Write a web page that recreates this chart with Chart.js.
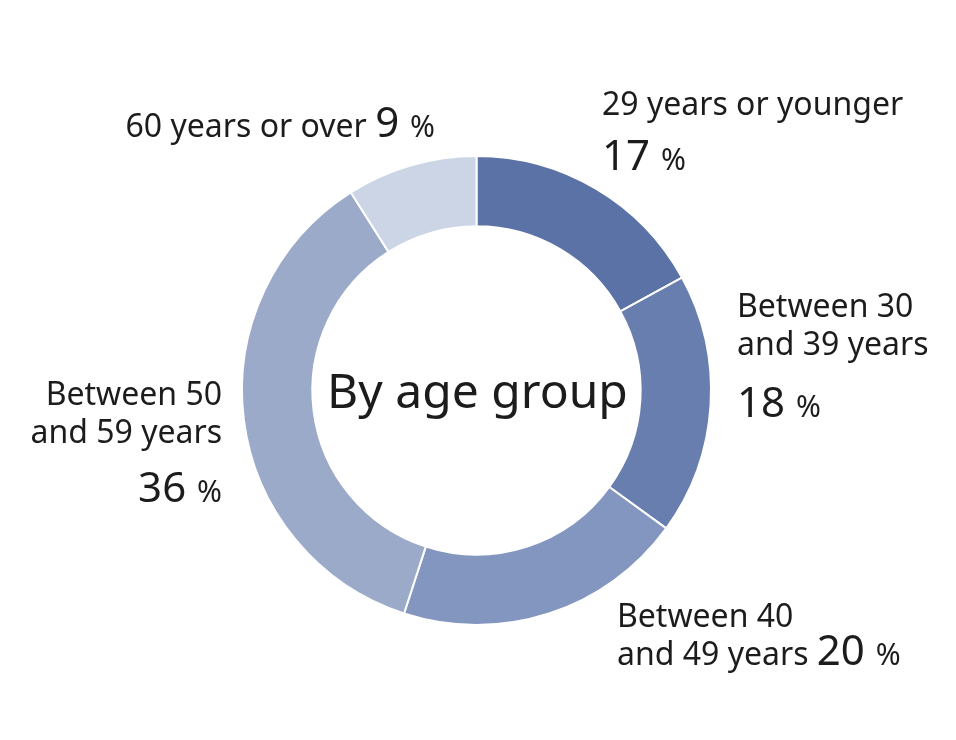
<!DOCTYPE html>
<html>
<head>
<meta charset="utf-8">
<script src="https://cdn.jsdelivr.net/npm/chart.js@4.4.0/dist/chart.umd.min.js"></script>
<style>
  html, body { margin: 0; padding: 0; background: #ffffff; }
  #wrap { width: 956px; height: 740px; position: relative; }
</style>
</head>
<body>
<div id="wrap"><canvas id="c" width="956" height="740"></canvas></div>
<script>
// ---- data ----
const categories = ["29 years or younger", "Between 30 and 39 years", "Between 40 and 49 years", "Between 50 and 59 years", "60 years or over"];
const labelLines = [
  ["29 years or younger"],
  ["Between 30", "and 39 years"],
  ["Between 40", "and 49 years"],
  ["Between 50", "and 59 years"],
  ["60 years or over"]
];
const shares = [17, 18, 20, 36, 9];
const sliceColors = ["#5a72a6", "#687eae", "#8396bf", "#9caac9", "#cbd5e6"];
const centerTitle = "By age group";

// ---- layout (positions, not data) ----
const FONT = "'Noto Sans', 'Open Sans', sans-serif";
const TXT = "#1c1c1c";
const LBL = 32, NUM = 42, PCT = 30;
function buildLabelLayout() {
  const pct = (v) => [{t: String(v), s: NUM}, {t: " ", s: NUM}, {t: "%", s: PCT}];
  return [
    [ {x: 602, y: 115, align: 'left', parts: [{t: labelLines[0][0], s: LBL}]},
      {x: 602, y: 170, align: 'left', parts: pct(shares[0])} ],
    [ {x: 737, y: 317, align: 'left', parts: [{t: labelLines[1][0], s: LBL}]},
      {x: 737, y: 355, align: 'left', parts: [{t: labelLines[1][1], s: LBL}]},
      {x: 737, y: 417, align: 'left', parts: pct(shares[1])} ],
    [ {x: 617, y: 627, align: 'left', parts: [{t: labelLines[2][0], s: LBL}]},
      {x: 617, y: 665, align: 'left', parts: [{t: labelLines[2][1] + " ", s: LBL}].concat(pct(shares[2]))} ],
    [ {x: 222, y: 405, align: 'right', parts: [{t: labelLines[3][0], s: LBL}]},
      {x: 222, y: 443, align: 'right', parts: [{t: labelLines[3][1], s: LBL}]},
      {x: 222, y: 502, align: 'right', parts: pct(shares[3])} ],
    [ {x: 435, y: 137, align: 'right', parts: [{t: labelLines[4][0] + " ", s: LBL}].concat(pct(shares[4]))} ]
  ];
}

const textPlugin = {
  id: 'textPlugin',
  afterDraw(chart) {
    const ctx = chart.ctx;
    ctx.save();
    ctx.fillStyle = TXT;
    ctx.textBaseline = 'alphabetic';
    ctx.textAlign = 'left';
    const layout = buildLabelLayout();
    layout.forEach(lines => {
      lines.forEach(line => {
        let total = 0;
        const widths = line.parts.map(p => {
          ctx.font = p.s + "px " + FONT;
          const w = ctx.measureText(p.t).width;
          total += w;
          return w;
        });
        let x = line.align === 'right' ? line.x - total : line.x;
        line.parts.forEach((p, i) => {
          ctx.font = p.s + "px " + FONT;
          ctx.fillText(p.t, x, line.y);
          x += widths[i];
        });
      });
    });
    const meta = chart.getDatasetMeta(0);
    const arc = meta.data[0];
    ctx.font = "48px " + FONT;
    ctx.textAlign = 'center';
    ctx.fillText(centerTitle, arc.x + 1, 408);
    ctx.restore();
  }
};

new Chart(document.getElementById('c'), {
  type: 'doughnut',
  data: {
    labels: categories,
    datasets: [{
      data: shares,
      backgroundColor: sliceColors,
      borderColor: '#ffffff',
      borderWidth: 2,
      hoverOffset: 0
    }]
  },
  options: {
    responsive: false,
    animation: false,
    cutout: '70%',
    layout: { padding: { top: 155, bottom: 114, left: 5, right: 8 } },
    plugins: {
      legend: { display: false },
      tooltip: { enabled: false }
    }
  },
  plugins: [textPlugin]
});
</script>
</body>
</html>
